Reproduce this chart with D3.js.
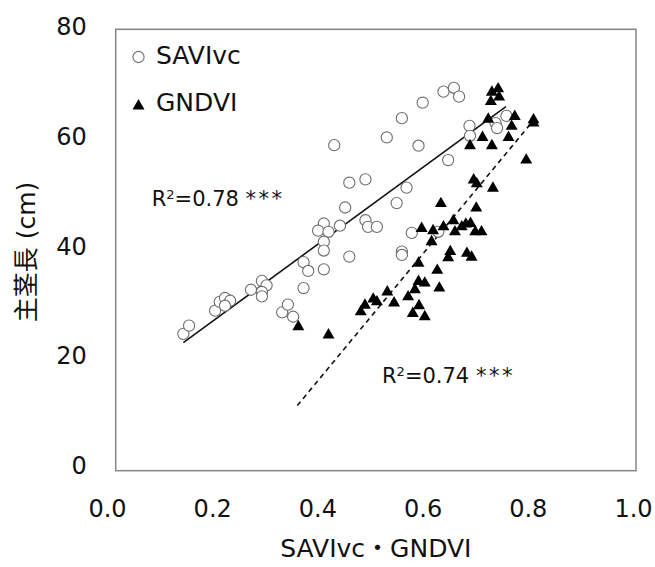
<!DOCTYPE html>
<html>
<head>
<meta charset="utf-8">
<script src="https://cdn.jsdelivr.net/npm/d3@7"></script>
<style>
  body { margin: 0; background: #fff; }
  text { font-family: "DejaVu Sans", "Noto Sans CJK JP", sans-serif; fill: #111; }
</style>
</head>
<body>
<svg id="fig" width="655" height="567"></svg>
<script>
// values: [index, plant length cm]
const saviPoints = [
  [0.130, 24.8], [0.141, 26.3], [0.191, 29.0], [0.200, 30.6], [0.210, 31.3], [0.220, 30.8],
  [0.210, 29.9], [0.260, 32.8], [0.281, 34.4], [0.290, 33.6], [0.281, 32.4], [0.281, 31.6],
  [0.320, 28.7], [0.331, 30.1], [0.341, 27.9], [0.361, 37.8], [0.370, 36.2], [0.361, 33.1],
  [0.400, 44.8], [0.389, 43.5], [0.409, 43.3], [0.400, 41.5], [0.400, 39.9], [0.400, 36.5],
  [0.420, 59.0], [0.431, 44.4], [0.441, 47.7], [0.449, 52.2], [0.449, 38.8], [0.480, 52.8],
  [0.480, 45.4], [0.485, 44.2], [0.502, 44.2], [0.521, 60.4], [0.540, 48.5], [0.550, 63.9],
  [0.550, 39.7], [0.550, 39.1], [0.559, 51.3], [0.569, 43.1], [0.582, 58.9], [0.590, 66.7],
  [0.620, 43.3], [0.630, 68.7], [0.639, 56.3], [0.650, 69.4], [0.660, 67.8], [0.680, 62.5],
  [0.681, 60.7], [0.730, 63.0], [0.751, 64.3], [0.733, 62.1]
];
const gndviPoints = [
  [0.351, 26.1], [0.409, 24.6], [0.471, 28.8], [0.479, 30.0], [0.495, 31.1], [0.502, 30.6],
  [0.522, 32.4], [0.535, 30.4], [0.562, 31.5], [0.571, 28.5], [0.583, 29.9], [0.594, 27.9],
  [0.575, 32.8], [0.582, 34.3], [0.594, 34.0], [0.582, 37.6], [0.618, 36.3], [0.622, 33.1],
  [0.607, 41.5], [0.610, 43.5], [0.588, 43.9], [0.630, 44.2], [0.643, 39.7], [0.639, 38.6],
  [0.652, 43.3], [0.649, 45.3], [0.665, 44.2], [0.673, 44.7], [0.682, 44.8], [0.691, 43.3],
  [0.703, 43.3], [0.675, 39.4], [0.684, 38.7], [0.625, 48.4], [0.693, 47.6], [0.688, 52.7],
  [0.694, 52.0], [0.725, 51.2], [0.789, 56.3], [0.681, 58.9], [0.705, 60.4], [0.723, 58.9],
  [0.755, 60.4], [0.761, 62.4], [0.767, 64.2], [0.803, 63.6], [0.803, 63.0], [0.716, 63.7],
  [0.721, 66.9], [0.737, 67.7], [0.723, 68.6], [0.735, 69.2]
];
// fitted lines, end points
const saviTrend = [[0.130, 23.2], [0.750, 66.0]];
const gndviTrend = [[0.349, 11.8], [0.796, 62.7]];

const xTicks = [0, 0.2, 0.4, 0.6, 0.8, 1.0];
const yTicks = [0, 20, 40, 60, 80];
const xTitle = "SAVIvc・GNDVI";
const yTitle = "主茎長 (cm)";
const legendNames = ["SAVIvc", "GNDVI"];

const svg = d3.select("#fig");

const x = d3.scaleLinear().domain([0, 1]).range([115.7, 636]);
const y = d3.scaleLinear().domain([0, 80]).range([470.7, 29.3]);
// tick labels sit a little off the box in the picture
const xLab = d3.scaleLinear().domain([0, 1]).range([107, 633]);
const yLab = d3.scaleLinear().domain([0, 80]).range([466, 27]);

// plot box
svg.append("rect")
  .attr("x", x(0)).attr("y", y(80))
  .attr("width", x(1) - x(0)).attr("height", y(0) - y(80))
  .attr("fill", "none").attr("stroke", "#858585").attr("stroke-width", 1.5);

// axes
const gx = svg.append("g").attr("transform", `translate(0,${y(0)})`)
  .call(d3.axisBottom(xLab).tickValues(xTicks).tickFormat(d3.format(".1f")).tickSize(0).tickPadding(29));
const gy = svg.append("g").attr("transform", `translate(${x(0)},0)`)
  .call(d3.axisLeft(yLab).tickValues(yTicks).tickSize(0).tickPadding(29));
[gx, gy].forEach(g => {
  g.select(".domain").remove();
  g.selectAll("text").attr("font-size", 24).attr("font-family", null).attr("fill", "#111");
});

svg.append("text")
  .attr("x", (x(0) + x(1)) / 2).attr("y", 557)
  .attr("text-anchor", "middle").attr("font-size", 25)
  .text(xTitle);

svg.append("text")
  .attr("transform", "translate(35,252) rotate(-90)")
  .attr("text-anchor", "middle").attr("font-size", 25)
  .text(yTitle);

// trend lines
const line = d3.line().x(d => x(d[0])).y(d => y(d[1]));
svg.append("path").attr("d", line(saviTrend))
  .attr("fill", "none").attr("stroke", "#111").attr("stroke-width", 1.6);
svg.append("path").attr("d", line(gndviTrend))
  .attr("fill", "none").attr("stroke", "#111").attr("stroke-width", 1.6)
  .attr("stroke-dasharray", "5,4");

// points
svg.append("g").selectAll("circle").data(saviPoints).join("circle")
  .attr("cx", d => x(d[0])).attr("cy", d => y(d[1])).attr("r", 5.6)
  .attr("fill", "#fff").attr("stroke", "#6e6e6e").attr("stroke-width", 1.1);

const tri = d3.symbol().type(d3.symbolTriangle).size(62);
svg.append("g").selectAll("path").data(gndviPoints).join("path")
  .attr("transform", d => `translate(${x(d[0])},${y(d[1])})`)
  .attr("d", tri).attr("fill", "#000");

// legend
svg.append("circle").attr("cx", 138.5).attr("cy", 57).attr("r", 5.6)
  .attr("fill", "#fff").attr("stroke", "#6e6e6e").attr("stroke-width", 1.1);
svg.append("path").attr("transform", "translate(138.5,106)").attr("d", tri).attr("fill", "#000");
svg.append("text").attr("x", 156).attr("y", 64).attr("font-size", 25).text(legendNames[0]);
svg.append("text").attr("x", 156).attr("y", 111).attr("font-size", 25).text(legendNames[1]);

// R² labels
function r2Label(px, py, value) {
  const t = svg.append("text").attr("x", px).attr("y", py).attr("font-size", 21);
  t.append("tspan").text("R");
  t.append("tspan").attr("font-size", 13).attr("dy", -7).text("2");
  t.append("tspan").attr("dy", 7).text("=" + value + " ");
  t.append("tspan").attr("letter-spacing", 2.5).attr("fill", "#111").text("***");
}
r2Label(151.7, 205.7, "0.78");
r2Label(382, 382.7, "0.74");
</script>
</body>
</html>
